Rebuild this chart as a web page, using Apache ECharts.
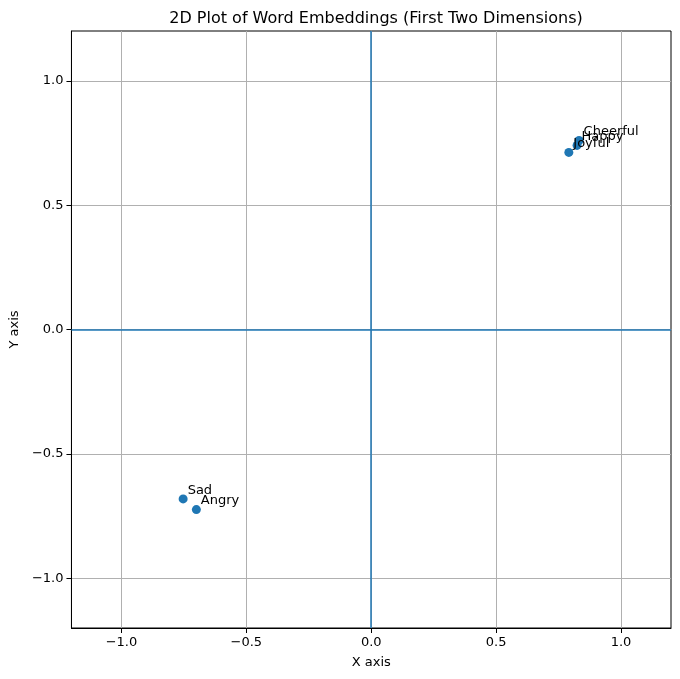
<!DOCTYPE html>
<html><head><meta charset="utf-8">
<script src="https://cdn.jsdelivr.net/npm/echarts@6/dist/echarts.min.js"></script>
<style>html,body{margin:0;padding:0;background:#fff}#c{width:680px;height:679px}</style>
</head><body><div id="c"></div>
<script>
const words = ['Happy', 'Joyful', 'Cheerful', 'Sad', 'Angry'];
const xValues = [0.824, 0.791, 0.832, -0.753, -0.700];
const yValues = [0.740, 0.712, 0.760, -0.681, -0.724];
const tickValues = [-1.0, -0.5, 0.0, 0.5, 1.0];
const axisRange = [-1.2, 1.2];

const font = 'DejaVu Sans';
const fmt = v => (Math.round(v * 10) / 10).toFixed(1).replace('-', '\u2212');
const pts = words.map((w, i) => ({ name: w, value: [xValues[i], yValues[i]] }));

function axis(name, isX) {
  return {
    type: 'value', min: axisRange[0], max: axisRange[1],
    name: name, nameLocation: 'middle', nameGap: isX ? 28 : 50,
    nameTextStyle: { fontFamily: font, fontSize: 13, color: '#000' },
    axisLine: { show: true, onZero: false, lineStyle: { color: '#000', width: 1 } },
    axisTick: { show: true, inside: false, length: 5, customValues: tickValues, lineStyle: { color: '#000' } },
    axisLabel: { customValues: tickValues, formatter: fmt, fontFamily: font, fontSize: 13, color: '#000', margin: 8 },
    splitLine: { show: true, lineStyle: { color: '#b0b0b0', width: 1 } }
  };
}

const chart = echarts.init(document.getElementById('c'), null, { renderer: 'canvas' });
chart.setOption({
  animation: false,
  backgroundColor: '#fff',
  title: { text: '2D Plot of Word Embeddings (First Two Dimensions)', left: 371, textAlign: 'center', top: 6,
    textStyle: { fontFamily: font, fontSize: 16, fontWeight: 'normal', color: '#000' } },
  grid: { left: 71, right: 9, top: 31, bottom: 51, show: true, borderColor: '#000', borderWidth: 1, backgroundColor: 'transparent' },
  xAxis: axis('X axis', true),
  yAxis: axis('Y axis', false),
  series: [{
    type: 'scatter', data: pts, symbolSize: 9,
    itemStyle: { color: '#1f77b4', opacity: 1 },
    label: { show: true, formatter: p => p.name, position: [9, 3.5], align: 'left', verticalAlign: 'bottom',
      fontFamily: font, fontSize: 13, color: '#000', lineHeight: 15 },
    labelLayout: { hideOverlap: false },
    markLine: {
      silent: true, symbol: 'none', label: { show: false },
      lineStyle: { color: '#1f77b4', width: 1.5, type: 'solid' },
      data: [{ xAxis: 0 }, { yAxis: 0 }]
    },
    z: 5
  }]
});
</script></body></html>
